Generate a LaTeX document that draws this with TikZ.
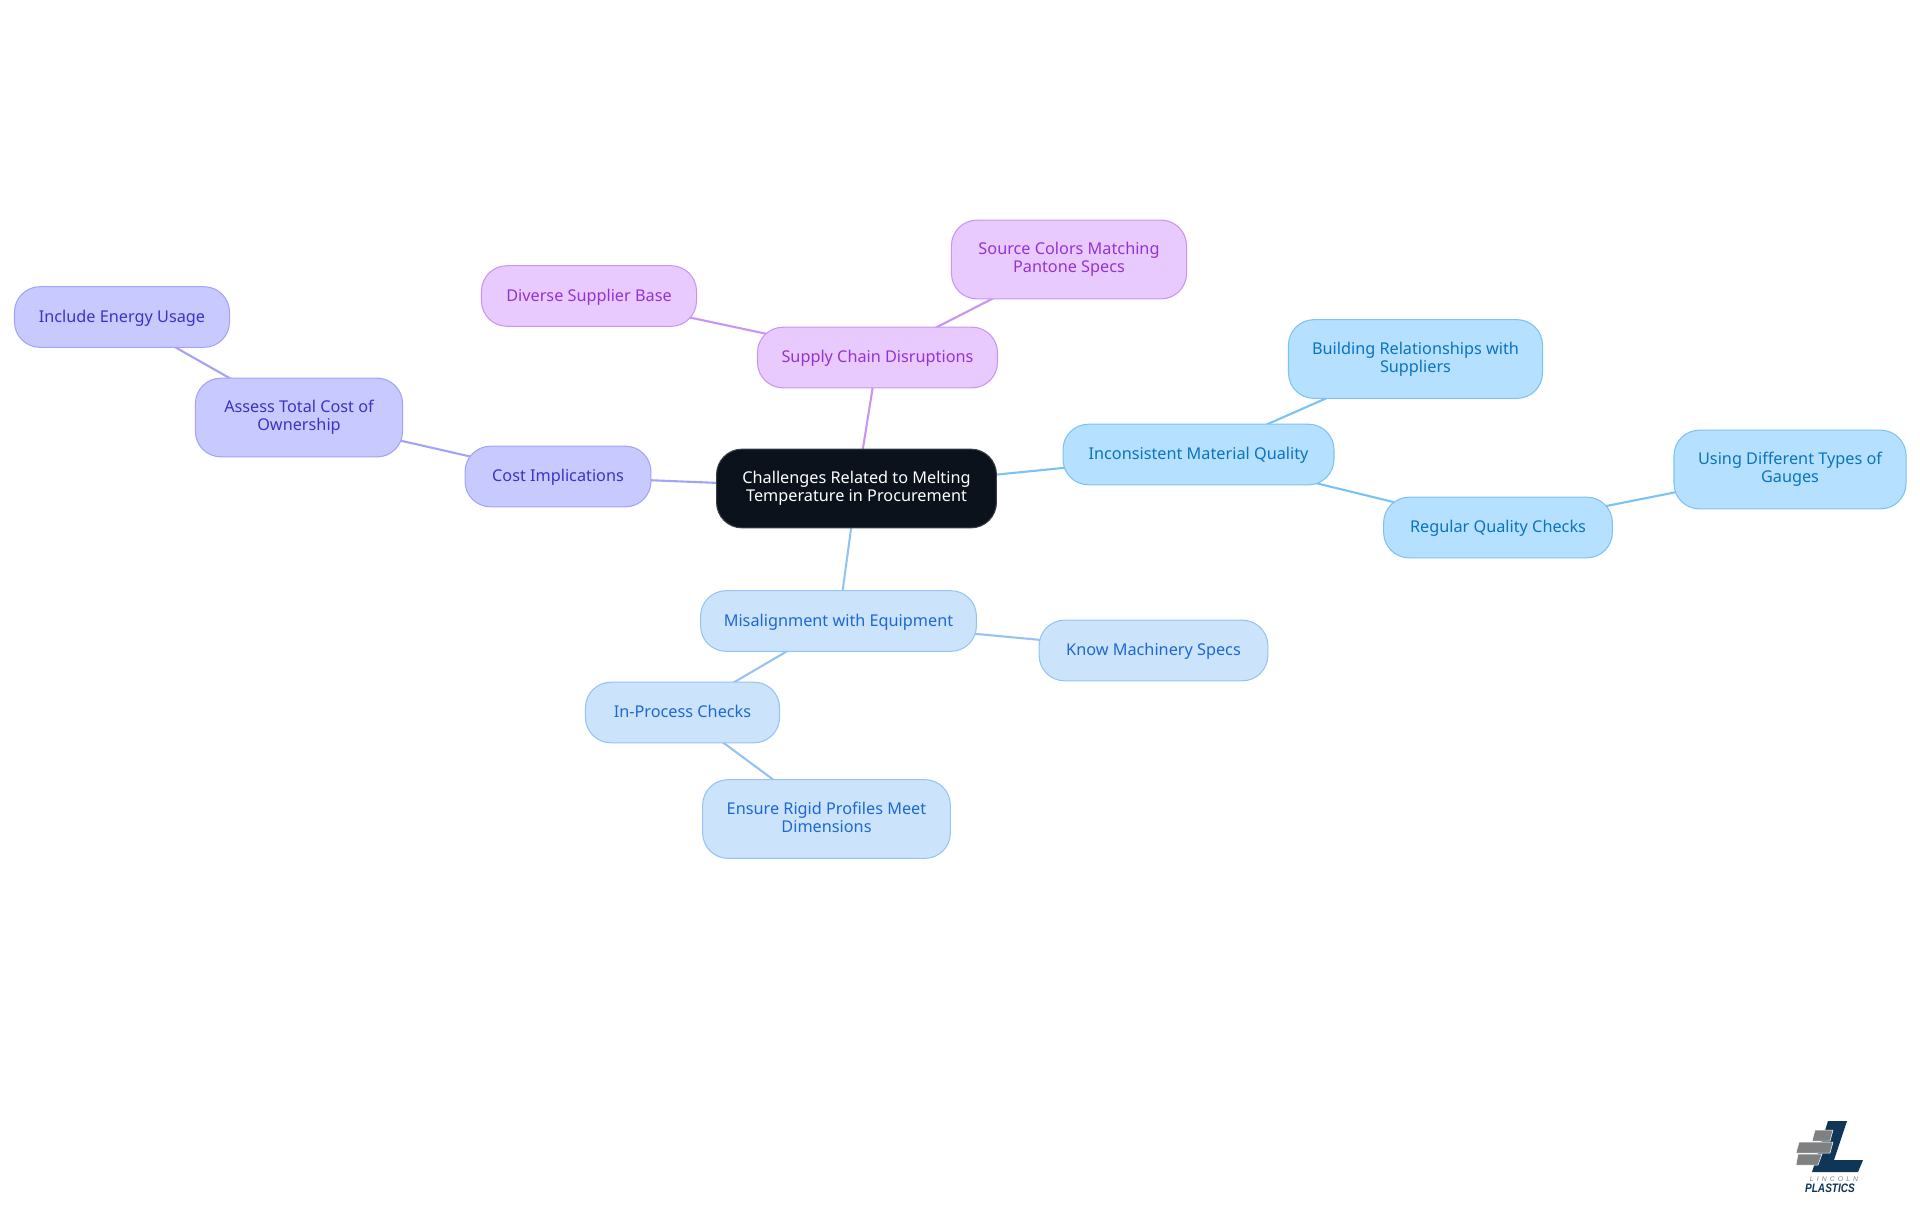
\documentclass[tikz,border=0pt]{standalone}
\usepackage{fontspec}
\setmainfont{Noto Sans}
\newfontfamily\logofont{Liberation Sans}
\newfontfamily\lincolnfont[LetterSpace=45]{Liberation Sans}
\usetikzlibrary{positioning,backgrounds}
\definecolor{rootfill}{HTML}{0B121B}
\definecolor{rootline}{HTML}{3A3F46}
\definecolor{costfill}{HTML}{C8CAFF}
\definecolor{costline}{HTML}{A3A3F5}
\definecolor{costtext}{HTML}{3A33C8}
\definecolor{equipfill}{HTML}{CCE3FC}
\definecolor{equipline}{HTML}{97C3F3}
\definecolor{equiptext}{HTML}{1C69D2}
\definecolor{qualfill}{HTML}{B5E0FF}
\definecolor{qualline}{HTML}{7CC3F3}
\definecolor{qualtext}{HTML}{0A74BE}
\definecolor{supfill}{HTML}{E9CAFF}
\definecolor{supline}{HTML}{C795F3}
\definecolor{suptext}{HTML}{9333D6}
\definecolor{logoblue}{HTML}{0F3557}
\definecolor{logogray}{HTML}{7F8082}
\tikzset{
    box/.style={rounded corners=14.5pt, line width=0.6pt, align=center, inner sep=0pt,
        font=\fontsize{9.25}{10.2}\selectfont,
        execute at begin node={\rule{0pt}{8.15pt}}, execute at end node={\rule[-1.95pt]{0pt}{1.95pt}}},
    rootbox/.style={box, fill=rootfill, draw=rootline, text=white},
    costbox/.style={box, fill=costfill, draw=costline, text=costtext},
    equipbox/.style={box, fill=equipfill, draw=equipline, text=equiptext},
    qualbox/.style={box, fill=qualfill, draw=qualline, text=qualtext},
    supbox/.style={box, fill=supfill, draw=supline, text=suptext},
    link/.style={line width=1.2pt},
    brick/.style={fill=logogray, draw=white, line width=0.3pt}
}
\begin{document}
\begin{tikzpicture}[x=0.02cm, y=-0.02cm]
    \useasboundingbox (0,0) rectangle (1920,1215);

    % centre
    \node[rootbox, minimum width=159.3pt, minimum height=44.8pt] (root) at (856.5,488.5)
        {Challenges Related to Melting\\Temperature in Procurement};

    % cost branch
    \node[costbox, minimum width=105.8pt, minimum height=34.5pt] (cost) at (558,476.5) {Cost Implications};
    \node[costbox, minimum width=117.9pt, minimum height=44.8pt] (owner) at (299,417.5) {Assess Total Cost of\\Ownership};
    \node[costbox, minimum width=122.4pt, minimum height=34.5pt] (energy) at (122,317) {Include Energy Usage};

    % supply branch
    \node[supbox, minimum width=136.6pt, minimum height=34.5pt] (supply) at (877.5,357.5) {Supply Chain Disruptions};
    \node[supbox, minimum width=122.4pt, minimum height=34.5pt] (diverse) at (589,296) {Diverse Supplier Base};
    \node[supbox, minimum width=133.8pt, minimum height=44.8pt] (pantone) at (1069,259.5) {Source Colors Matching\\Pantone Specs};

    % quality branch
    \node[qualbox, minimum width=154.2pt, minimum height=34.5pt] (quality) at (1198.5,454.5) {Inconsistent Material Quality};
    \node[qualbox, minimum width=144.6pt, minimum height=44.8pt] (supplier) at (1415.5,359) {Building Relationships with\\Suppliers};
    \node[qualbox, minimum width=130.2pt, minimum height=34.5pt] (checks) at (1498,527.5) {Regular Quality Checks};
    \node[qualbox, minimum width=132.1pt, minimum height=44.8pt] (gauges) at (1790,469.5) {Using Different Types of\\Gauges};

    % equipment branch
    \node[equipbox, minimum width=157pt, minimum height=34.5pt] (equip) at (838.5,621) {Misalignment with Equipment};
    \node[equipbox, minimum width=130.2pt, minimum height=34.5pt] (specs) at (1153.5,650.5) {Know Machinery Specs};
    \node[equipbox, minimum width=110.5pt, minimum height=34.5pt] (process) at (682.5,712.5) {In-Process Checks};
    \node[equipbox, minimum width=141pt, minimum height=44.8pt] (rigid) at (826.5,819) {Ensure Rigid Profiles Meet\\Dimensions};

    % links sit behind the boxes
    \begin{scope}[on background layer]
        \draw[link, costline] (root.center) -- (cost.center);
        \draw[link, costline] (cost.center) -- (owner.center);
        \draw[link, costline] (owner.center) -- (energy.center);
        \draw[link, supline] (root.center) -- (supply.center);
        \draw[link, supline] (supply.center) -- (diverse.center);
        \draw[link, supline] (supply.center) -- (pantone.center);
        \draw[link, qualline] (root.center) -- (quality.center);
        \draw[link, qualline] (quality.center) -- (supplier.center);
        \draw[link, qualline] (quality.center) -- (checks.center);
        \draw[link, qualline] (checks.center) -- (gauges.center);
        \draw[link, equipline] (root.center) -- (equip.center);
        \draw[link, equipline] (equip.center) -- (specs.center);
        \draw[link, equipline] (equip.center) -- (process.center);
        \draw[link, equipline] (process.center) -- (rigid.center);
    \end{scope}

    % logo
    \fill[logoblue] (1828,1121) -- (1847,1121) -- (1834,1160) -- (1863,1160) -- (1858,1172) -- (1812,1172) -- cycle;
    \draw[brick] (1815,1130) -- (1833,1130) -- (1830,1141) -- (1812,1141) -- cycle;
    \draw[brick] (1799,1142) -- (1833,1142) -- (1830,1153) -- (1796,1153) -- cycle;
    \draw[brick] (1798,1154) -- (1822,1154) -- (1818,1165) -- (1796,1165) -- cycle;
    \node[font=\lincolnfont\fontsize{3.9}{4}\selectfont\itshape, text=logogray, inner sep=0pt] (lincoln) at (1834,1179) {LINCOLN};
    \node[font=\logofont\fontsize{7}{7}\selectfont\bfseries\itshape, text=logoblue, inner sep=0pt] (plastics) at (1830,1188.5) {\scalebox{0.82}[1]{PLASTICS}};
\end{tikzpicture}
\end{document}
